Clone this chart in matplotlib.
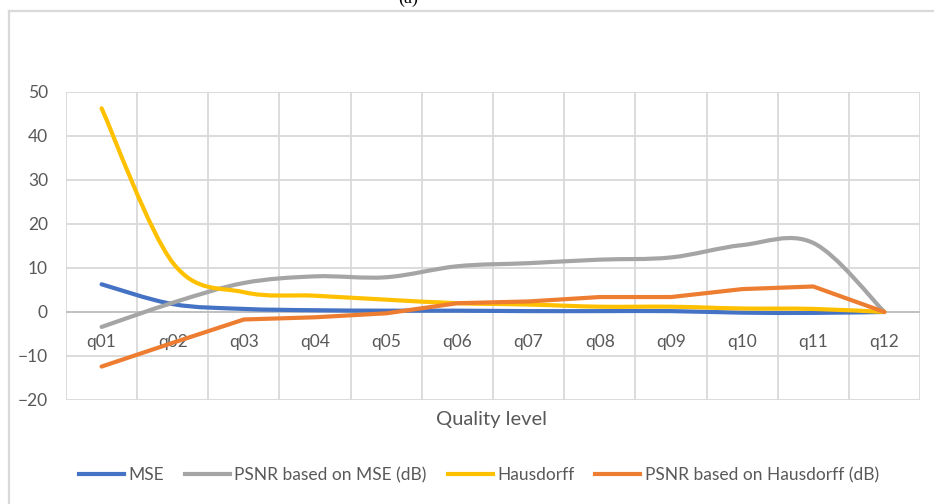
import numpy as np
import matplotlib.pyplot as plt
from matplotlib.path import Path
from matplotlib.patches import PathPatch
from matplotlib.lines import Line2D

levels = ['q01', 'q02', 'q03', 'q04', 'q05', 'q06', 'q07', 'q08', 'q09', 'q10', 'q11', 'q12']
mse = [6.3, 1.8, 0.7, 0.4, 0.3, 0.3, 0.2, 0.2, 0.2, -0.15, -0.2, 0.0]
psnr_mse = [-3.4, 2.1, 6.6, 8.1, 7.9, 10.4, 11.1, 11.9, 12.4, 15.2, 15.7, 0.0]
hausdorff = [46.3, 11.2, 4.5, 3.7, 2.8, 2.0, 1.7, 1.2, 1.2, 0.8, 0.7, 0.0]
psnr_haus = [-12.4, -7.0, -1.7, -1.2, -0.3, 2.0, 2.4, 3.4, 3.4, 5.2, 5.8, 0.0]

c_blue = '#4472C4'
c_gray = '#A5A5A5'
c_yel = '#FFC000'
c_org = '#ED7D31'
txt = '#595959'
grid_c = '#d9d9d9'
font = 'Lato'


def smooth_path(xs, ys):
    # cubic bezier through every point, office-style smoothing (tension 1/6)
    pts = np.column_stack([xs, ys]).astype(float)
    n = len(pts)
    verts = [pts[0]]
    codes = [Path.MOVETO]
    for i in range(n - 1):
        p_prev = pts[i - 1] if i > 0 else pts[i]
        p_next2 = pts[i + 2] if i + 2 < n else pts[i + 1]
        c1 = pts[i] + (pts[i + 1] - p_prev) / 6.0
        c2 = pts[i + 1] - (p_next2 - pts[i]) / 6.0
        verts += [c1, c2, pts[i + 1]]
        codes += [Path.CURVE4] * 3
    return Path(verts, codes)


W, H = 934, 504
fig = plt.figure(figsize=(W / 100, H / 100), dpi=100)
ax = fig.add_axes([66 / W, 1 - 400 / H, (920 - 66) / W, (400 - 92) / H])

x = np.arange(len(levels))
ax.set_xlim(-0.5, len(levels) - 0.5)
ax.set_ylim(-20, 50)

# grid
for gx in np.arange(-0.5, len(levels), 1.0):
    ax.axvline(gx, color=grid_c, lw=1.3, zorder=0)
for gy in range(-20, 51, 10):
    ax.axhline(gy, color=grid_c, lw=1.3, zorder=0)
ax.axhline(0, color='#bfbfbf', lw=1.3, zorder=1)

lw = 3.0
ax.add_patch(PathPatch(smooth_path(x, mse), fill=False, edgecolor=c_blue, lw=lw,
                       capstyle='round', joinstyle='round', zorder=2))
ax.add_patch(PathPatch(smooth_path(x, psnr_mse), fill=False, edgecolor=c_gray, lw=lw,
                       capstyle='round', joinstyle='round', zorder=3))
ax.add_patch(PathPatch(smooth_path(x, hausdorff), fill=False, edgecolor=c_yel, lw=lw,
                       capstyle='round', joinstyle='round', zorder=4))
ax.plot(x, psnr_haus, color=c_org, lw=lw, solid_capstyle='round',
        solid_joinstyle='round', zorder=5)

for s in ax.spines.values():
    s.set_visible(False)
ax.set_xticks([])
ax.set_yticks(range(-20, 51, 10))
ax.tick_params(axis='y', length=0, pad=13, labelcolor=txt, labelsize=12.5)
for lab in ax.get_yticklabels():
    lab.set_fontfamily(font)

# category labels sit just below the zero line
for xi, lab in zip(x, levels):
    ax.text(xi, -6.8, lab, ha='center', va='center', color=txt,
            fontsize=12.5, family=font)

fig.text(492 / W, 1 - 420 / H, 'Quality level', ha='center', va='center',
         color=txt, fontsize=14.5, family=font)

handles = [Line2D([], [], color=c, lw=3) for c in (c_blue, c_gray, c_yel, c_org)]
names = ['MSE', 'PSNR based on MSE (dB)', 'Hausdorff', 'PSNR based on Hausdorff (dB)']
leg = fig.legend(handles, names, loc='center', bbox_to_anchor=(479 / W, 1 - 475 / H),
                 ncol=4, frameon=False, handlelength=2.6, handletextpad=0.25,
                 columnspacing=1.2, prop={'family': font, 'size': 12.5})
for t in leg.get_texts():
    t.set_color(txt)

# chart frame and the bottom of the caption above it
fig.add_artist(Line2D([9 / W, 9 / W], [0, 1 - 11 / H], color=grid_c, lw=1.6))
fig.add_artist(Line2D([9 / W, 1], [1 - 11 / H, 1 - 11 / H], color=grid_c, lw=1.6))
fig.text(408 / W, 1 + 2 / H, '(a)', ha='center', va='center', fontsize=13,
         family='Liberation Serif', color='black')

fig.savefig('out.png', dpi=100)
